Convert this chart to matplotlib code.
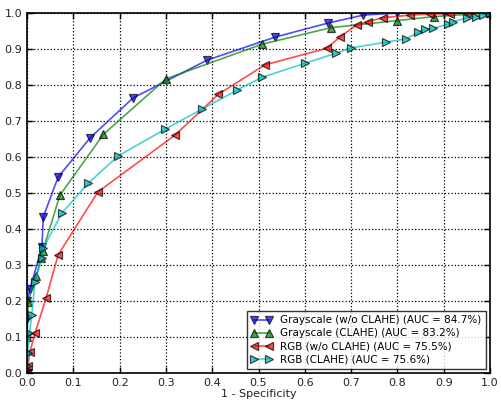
import numpy as np
import matplotlib
matplotlib.use('Agg')
import matplotlib.pyplot as plt

# ROC points: (1 - specificity, sensitivity)
gray_fpr = [0.0, 0.0, 0.0, 0.0, 0.006, 0.032, 0.035, 0.067, 0.136, 0.229, 0.389,
            0.536, 0.65, 0.726, 0.80, 0.9, 1.0]
gray_tpr = [0.0, 0.1, 0.15, 0.2, 0.233, 0.35, 0.434, 0.544, 0.653, 0.764, 0.869,
            0.933, 0.972, 0.994, 1.0, 1.0, 1.0]

grayc_fpr = [0.0, 0.0, 0.002, 0.02, 0.03, 0.034, 0.071, 0.165, 0.30, 0.507,
             0.656, 0.80, 0.88, 1.0]
grayc_tpr = [0.0, 0.1, 0.197, 0.27, 0.32, 0.34, 0.494, 0.663, 0.817, 0.913,
             0.959, 0.979, 0.99, 1.0]

rgb_fpr = [0.0, 0.002, 0.006, 0.017, 0.041, 0.067, 0.153, 0.32, 0.413, 0.514,
           0.648, 0.676, 0.713, 0.737, 0.769, 0.827, 0.87, 0.914, 0.95, 1.0]
rgb_tpr = [0.0, 0.02, 0.058, 0.11, 0.208, 0.328, 0.503, 0.661, 0.774, 0.856,
           0.902, 0.934, 0.967, 0.976, 0.987, 0.994, 0.997, 0.998, 1.0, 1.0]

rgbc_fpr = [0.0, 0.0, 0.002, 0.005, 0.01, 0.017, 0.032, 0.035, 0.075, 0.132,
            0.197, 0.298, 0.378, 0.454, 0.507, 0.60, 0.667, 0.70, 0.776, 0.818,
            0.845, 0.86, 0.877, 0.91, 0.92, 0.95, 0.97, 0.985, 1.0]
rgbc_tpr = [0.0, 0.02, 0.055, 0.11, 0.16, 0.253, 0.32, 0.347, 0.444, 0.527,
            0.603, 0.677, 0.733, 0.786, 0.821, 0.86, 0.888, 0.903, 0.919, 0.928,
            0.946, 0.955, 0.957, 0.969, 0.976, 0.986, 0.99, 0.995, 1.0]

labels = ['Grayscale (w/o CLAHE) (AUC = 84.7%)',
          'Grayscale (CLAHE) (AUC = 83.2%)',
          'RGB (w/o CLAHE) (AUC = 75.5%)',
          'RGB (CLAHE) (AUC = 75.6%)']

series = [(gray_fpr, gray_tpr, 'b', 'v'),
          (grayc_fpr, grayc_tpr, 'g', '^'),
          (rgb_fpr, rgb_tpr, 'r', '<'),
          (rgbc_fpr, rgbc_tpr, 'c', '>')]

fig = plt.figure(figsize=(5.02, 4.05), dpi=100)
ax = fig.add_axes([0.054, 0.079, 0.922, 0.889])

for (x, y, col, mk), lab in zip(series, labels):
    ax.plot(x, y, color=col, marker=mk, markersize=5.5, linewidth=1.2, alpha=0.7,
            markeredgecolor='k', markeredgewidth=0.9, label=lab)

ax.set_xlim(0, 1)
ax.set_ylim(0, 1)
ax.set_xticks(np.arange(0, 1.01, 0.1))
ax.set_yticks(np.arange(0, 1.01, 0.1))
ax.tick_params(direction='in', top=True, right=True, labelsize=8, length=4, width=1,
               labelcolor='#222222')
ax.grid(True, color='k', linestyle=':', linewidth=0.9)
for s in ax.spines.values():
    s.set_linewidth(1.2)
ax.set_xlabel('1 - Specificity', fontsize=8, labelpad=1, color='#222222')

leg = ax.legend(loc='lower right', fontsize=7.5, numpoints=2, fancybox=False,
                borderaxespad=0.4, handlelength=2, labelspacing=0.3)
leg.get_frame().set_edgecolor('k')
leg.get_frame().set_linewidth(1)

fig.savefig('out.png', dpi=100)
